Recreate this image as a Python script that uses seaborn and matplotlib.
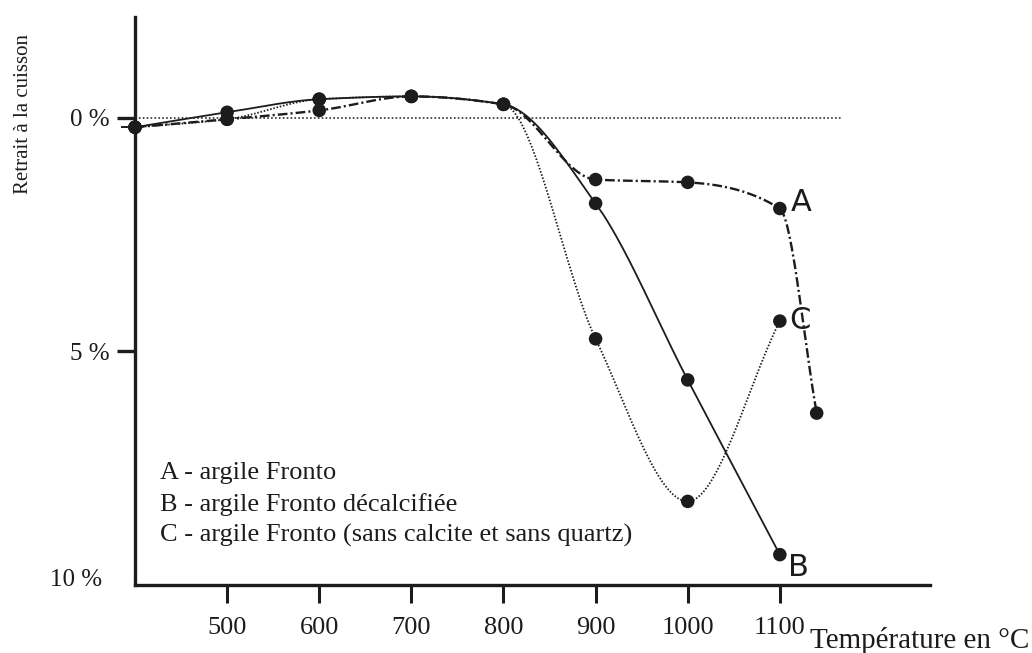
import numpy as np
import pandas as pd
import matplotlib.pyplot as plt
import matplotlib.transforms as mtransforms
import seaborn as sns

# Valeurs (retrait en %, positif vers le bas)
temp_a = [400, 500, 600, 700, 800, 900, 1000, 1100, 1140]
retrait_a = [0.2, 0.03, -0.16, -0.46, -0.29, 1.32, 1.38, 1.94, 6.32]
temp_b = [400, 500, 600, 700, 800, 900, 1000, 1100]
retrait_b = [0.2, -0.12, -0.40, -0.46, -0.29, 1.83, 5.61, 9.35]
temp_c = [400, 500, 600, 700, 800, 900, 1000, 1100]
retrait_c = [0.2, 0.03, -0.40, -0.46, -0.29, 4.73, 8.21, 4.35]

x_ticks = [500, 600, 700, 800, 900, 1000, 1100]
y_ticks = [0, 5, 10]
y_labels = ["0 %", "5 %", "10 %"]
legende = ["A - argile Fronto",
           "B - argile Fronto décalcifiée",
           "C - argile Fronto (sans calcite et sans quartz)"]

INK = "#1c1c1c"


def lissage(x, y, n=300):
    # courbe lisse (hermite monotone) passant par les points mesurés
    x = np.asarray(x, float)
    y = np.asarray(y, float)
    h = np.diff(x)
    d = np.diff(y) / h
    m = np.zeros_like(y)
    m[0], m[-1] = d[0], d[-1]
    for k in range(1, len(x) - 1):
        if d[k - 1] * d[k] > 0:
            w1 = 2 * h[k] + h[k - 1]
            w2 = h[k] + 2 * h[k - 1]
            m[k] = (w1 + w2) / (w1 / d[k - 1] + w2 / d[k])
    xs = np.linspace(x[0], x[-1], n)
    i = np.clip(np.searchsorted(x, xs) - 1, 0, len(x) - 2)
    t = (xs - x[i]) / h[i]
    h00 = 2 * t**3 - 3 * t**2 + 1
    h10 = t**3 - 2 * t**2 + t
    h01 = -2 * t**3 + 3 * t**2
    h11 = t**3 - t**2
    ys = h00 * y[i] + h10 * h[i] * m[i] + h01 * y[i + 1] + h11 * h[i] * m[i + 1]
    return xs, ys


sns.set_theme(style="white")
plt.rcParams["font.family"] = ["Liberation Serif", "DejaVu Serif"]
plt.rcParams["lines.scale_dashes"] = False

fig = plt.figure(figsize=(10.32, 6.53), dpi=100)
ax = fig.add_axes([135 / 1032, 68 / 653, 795 / 1032, 568 / 653])

# ligne de référence 0 %
ax.hlines(0, 400, 1168, colors=INK, linestyles=(0, (1.2, 1.6)), linewidth=1.1)

series = [
    (temp_a, retrait_a, (0, (7, 2.2, 1.5, 2.2)), 1.7),
    (temp_b, retrait_b, "-", 1.3),
    (temp_c, retrait_c, (0, (1.1, 1.3)), 1.3),
]
for tx, ry, ls, lw in series:
    xs, ys = lissage(tx, ry)
    ax.plot(xs, ys, color=INK, linestyle=ls, linewidth=lw)
    sns.scatterplot(x=tx, y=ry, ax=ax, color=INK, s=95, edgecolor="none",
                    zorder=5, clip_on=False)

# lettres des courbes
lettres = [("A", temp_a[7], retrait_a[7], (21, 6)),
           ("C", temp_c[7], retrait_c[7], (20, 1)),
           ("B", temp_b[7], retrait_b[7], (19, -13))]
for lettre, tx, ry, off in lettres:
    ax.annotate(lettre, (tx, ry), xytext=off, textcoords="offset pixels",
                ha="center", va="center", fontsize=22, family="DejaVu Sans",
                color=INK)

for k, txt in enumerate(legende):
    ax.text(0.0314, 0.197 - k * 0.0545, txt, transform=ax.transAxes,
            fontsize=19, va="center", ha="left", color=INK)

ax.set_xlim(400, 1263)
ax.set_ylim(10, -2.16)
ax.set_xticks(x_ticks)
ax.set_xticklabels([str(v) for v in x_ticks], fontsize=19, color=INK)
ax.set_yticks(y_ticks)
ax.set_yticklabels(y_labels, fontsize=18, color=INK)
ax.set_yticks([0.2], minor=True)

ax.tick_params(axis="x", direction="out", length=13, width=2.2, pad=10, color=INK,
               bottom=True)
ax.tick_params(axis="y", which="major", direction="out", length=13, width=2.4, pad=5,
               color=INK, left=True)
ax.tick_params(axis="y", which="minor", direction="out", length=10, width=1.4,
               color=INK, left=True)
ax.yaxis.get_major_ticks()[2].tick1line.set_visible(False)
lab10 = ax.get_yticklabels()[2]
lab10.set_transform(lab10.get_transform() +
                    mtransforms.ScaledTranslation(-8 / 100, 8 / 100, fig.dpi_scale_trans))

sns.despine(ax=ax)
for sp in ("left", "bottom"):
    ax.spines[sp].set_linewidth(2.4)
    ax.spines[sp].set_color(INK)

ax.set_xlabel("")
ax.set_ylabel("")
fig.text(24 / 1032, 1 - 114 / 653, "Retrait à la cuisson", rotation=90,
         ha="center", va="center", fontsize=15, color=INK)
fig.text(810 / 1032, 1 - 640 / 653, "Température en °C", ha="left", va="center",
         fontsize=21, color=INK)

fig.savefig("out.png", dpi=100, facecolor="white")
